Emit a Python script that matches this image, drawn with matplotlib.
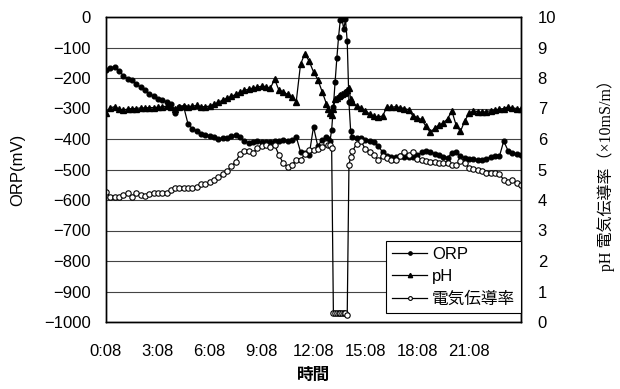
import matplotlib
matplotlib.use("Agg")
import matplotlib.pyplot as plt
import numpy as np

plt.rcParams["font.family"] = ["Liberation Sans", "Noto Sans CJK JP"]

# ---------------------------------------------------------------------------
# Data (hours since 0:08)
# ---------------------------------------------------------------------------
hours = np.round(np.concatenate([
    np.arange(0, 12.76, 0.25),
    np.arange(12.85, 14.26, 0.1),
    np.arange(14.5, 24.01, 0.25),
]), 2)

orp = [
    -174, -166, -165, -176, -192, -202, -208, -220, -230, -240, -252, -260,
    -268, -273, -278, -284, -316, -294, -296, -352, -366, -374, -384, -386,
    -390, -394, -401, -398, -396, -390, -388, -395, -408, -412, -410, -408,
    -411, -410, -409, -407, -405, -403, -406, -404, -393, -442, -447, -452,
    -360, -424, -402, -394,
    -400, -408, -370, -294, -212, -135, -65, -10, -6, -40, -8, -80, -280, -375, -395,
    -398, -398, -402, -405, -410, -422, -444, -455, -458, -458, -457, -460,
    -458, -458, -452, -444, -440, -442, -448, -453, -458, -461, -446, -442,
    -456, -462, -464, -466, -468, -468, -464, -459, -456, -457, -407, -438,
    -446, -450, -452,
]

ph = [
    6.84, 7.02, 7.06, 6.98, 6.95, 6.98, 7.00, 7.00, 7.02, 7.02, 7.03, 7.03,
    7.04, 7.05, 7.08, 7.06, 7.00, 7.06, 7.08, 7.06, 7.08, 7.10, 7.06, 7.06,
    7.08, 7.14, 7.20, 7.28, 7.34, 7.40, 7.46, 7.53, 7.60, 7.63, 7.67, 7.70,
    7.73, 7.72, 7.66, 7.96, 7.60, 7.55, 7.46, 7.38, 7.22, 8.45, 8.80, 8.55,
    8.20, 7.95, 7.55, 7.15,
    7.00, 6.85, 6.78, 7.00, 7.30, 7.36, 7.40, 7.44, 7.47, 7.50, 7.55, 7.62, 7.68, 7.30, 7.20,
    7.08, 7.02, 6.92, 6.82, 6.74, 6.72, 6.76, 7.05, 7.04, 7.06, 7.03, 7.00,
    6.96, 6.76, 6.70, 6.64, 6.42, 6.22, 6.35, 6.45, 6.52, 6.66, 6.92, 6.45,
    6.25, 6.60, 6.84, 6.92, 6.90, 6.87, 6.90, 6.93, 6.95, 6.98, 7.00, 7.05,
    7.02, 7.00, 6.98,
]

ec = [
    4.27, 4.11, 4.11, 4.11, 4.15, 4.22, 4.11, 4.22, 4.18, 4.12, 4.20, 4.22,
    4.22, 4.22, 4.22, 4.33, 4.40, 4.40, 4.40, 4.40, 4.40, 4.42, 4.51, 4.51,
    4.60, 4.66, 4.77, 4.85, 4.95, 5.10, 5.26, 5.50, 5.60, 5.60, 5.53, 5.72,
    5.78, 5.80, 5.75, 5.80, 5.48, 5.20, 5.09, 5.15, 5.31, 5.31, 5.50, 5.64,
    5.64, 5.66, 5.75, 5.86,
    5.80, 5.80, 5.72, 0.30, 0.30, 0.30, 0.30, 0.30, 0.30, 0.30, 0.30, 0.23, 5.15, 5.42, 5.60,
    5.85, 5.93, 5.66, 5.58, 5.48, 5.31, 5.45, 5.38, 5.31, 5.31, 5.45, 5.58,
    5.48, 5.58, 5.35, 5.30, 5.28, 5.26, 5.24, 5.22, 5.20, 5.20, 5.16, 5.15,
    5.28, 5.22, 5.05, 5.02, 4.98, 4.95, 4.88, 4.87, 4.88, 4.85, 4.66, 4.60,
    4.66, 4.55, 4.49,
]

xtick_pos = [0, 3, 6, 9, 12, 15, 18, 21]
xtick_labels = ["0:08", "3:08", "6:08", "9:08", "12:08", "15:08", "18:08", "21:08"]

# ---------------------------------------------------------------------------
# Figure
# ---------------------------------------------------------------------------
fig = plt.figure(figsize=(6.2, 3.89), dpi=100)
ax = fig.add_axes([106 / 620, 1 - 322 / 389, 415 / 620, 305 / 389])
ax2 = ax.twinx()

l1, = ax.plot(hours, orp, color="black", lw=0.9, marker="o", ms=3.4,
              mfc="black", mec="black", label="ORP")
l2, = ax2.plot(hours, ph, color="black", lw=0.9, marker="^", ms=4.4,
               mfc="black", mec="black", label="pH")
l3, = ax2.plot(hours, ec, color="black", lw=0.9, marker="o", ms=3.9,
               mfc="white", mec="black", mew=0.8, label="電気伝導率")

ax.set_xlim(0, 24)
ax.set_ylim(-1000, 0)
ax2.set_ylim(0, 10)
ax.set_yticks(range(-1000, 1, 100))
ax2.set_yticks(range(0, 11))
ax.set_xticks(xtick_pos)
ax.set_xticklabels(xtick_labels)
ax.set_xticks(range(0, 25, 3), minor=True)

ax.grid(True, which="major", axis="y", color="#444444", lw=0.8)
ax.grid(True, which="minor", axis="x", color="#444444", lw=0.8)
ax.set_axisbelow(True)

ax.tick_params(axis="x", which="both", length=0, pad=16, labelsize=12)
ax.tick_params(axis="y", length=0, pad=11, labelsize=12)
ax2.tick_params(axis="y", length=0, pad=12, labelsize=12)

for a in (ax, ax2):
    for s in a.spines.values():
        s.set_color("black")
        s.set_linewidth(1.0)

ax.set_ylabel("ORP(mV)", fontsize=12)
ax.yaxis.set_label_coords(-0.195, 0.5)
ax.set_xlabel("時間", fontsize=12, fontweight="bold")
ax.xaxis.set_label_coords(0.5, -0.15)
ax2.set_ylabel("pH 電気伝導率（×10mS/m）", fontsize=11.5,
               family=["Liberation Serif", "Noto Sans CJK JP"])
ax2.yaxis.set_label_coords(1.183, 0.495)

leg = ax2.legend([l1, l2, l3], ["ORP", "pH", "電気伝導率"],
                 loc="lower right", bbox_to_anchor=(1.0, 0.03),
                 borderaxespad=0, fontsize=12, fancybox=False,
                 framealpha=1, edgecolor="black", markerscale=0.7,
                 handlelength=2.1, handletextpad=0.3, labelspacing=0.45,
                 borderpad=0.35)
leg.get_frame().set_linewidth(0.8)

fig.savefig("out.png", dpi=100)
